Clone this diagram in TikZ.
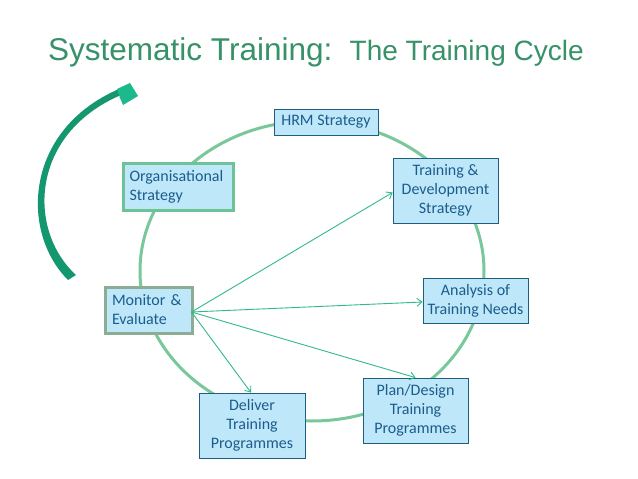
\documentclass[tikz,border=0pt]{standalone}
\usepackage{fontspec}
\setmainfont{Carlito}
\newfontfamily\titlefont{Liberation Sans}
\usetikzlibrary{arrows.meta}
\definecolor{boxfill}{RGB}{190,232,250}
\definecolor{boxtext}{RGB}{28,92,140}
\definecolor{boxline}{RGB}{30,95,125}
\definecolor{ring}{RGB}{120,200,155}
\definecolor{orgline}{RGB}{110,195,150}
\definecolor{monline}{RGB}{140,172,148}
\definecolor{arr}{RGB}{50,185,140}
\definecolor{titlecol}{RGB}{55,145,105}
\definecolor{bigarrow}{RGB}{20,150,110}
\definecolor{bigarrowhead}{RGB}{28,185,140}
\tikzset{
  stagebox/.style={draw=boxline, line width=0.8pt, fill=boxfill, text=boxtext,
    font=\fontsize{16}{19}\selectfont, align=center, inner sep=0pt},
  linkarrow/.style={draw=arr, line width=0.9pt, -{Straight Barb[length=5pt,width=8pt]}},
}
\begin{document}
\begin{tikzpicture}[x=1pt,y=-1pt]
\useasboundingbox (0,0) rectangle (638,479);
\fill[white] (0,0) rectangle (638,479);

% title
\node[anchor=base west, inner sep=0pt, text=titlecol] (title) at (48,60)
  {\titlefont\fontsize{31.5}{34}\selectfont Systematic Training:\hspace{0.55em}\fontsize{28}{30}\selectfont The Training Cycle};

% cycle ring
\draw[ring, line width=3pt] (312,271) ellipse [x radius=172, y radius=150];

% big curved arrow on the left
\fill[bigarrow] (68,280) .. controls (20,232) and (24,130) .. (119,89)
  -- (121,95) .. controls (30,134) and (27,230) .. (76,275) -- cycle;
\fill[bigarrowhead] (117,89) -- (130,83) -- (138,96) -- (123,105) -- (120,98) -- cycle;

% boxes
\node[stagebox, minimum width=104pt, minimum height=26pt] (hrm) at (326,122) {HRM Strategy};
\node[stagebox, draw=orgline, line width=3pt, minimum width=110pt, minimum height=47pt,
  align=left, text width=97pt] (org) at (178,186.5) {Organisational\\Strategy};
\node[stagebox, minimum width=105pt, minimum height=65pt] (td) at (445.5,190.5) {Training \&\\Development\\Strategy};
\node[stagebox, minimum width=105pt, minimum height=45pt] (an) at (475.5,300.5) {Analysis of\\Training Needs};
\node[stagebox, draw=monline, line width=3pt, minimum width=87pt, minimum height=46pt,
  align=left, text width=73pt] (mon) at (148.5,310) {Monitor \&\\Evaluate};
\node[stagebox, minimum width=106pt, minimum height=65pt] (de) at (252,425.5) {Deliver\\Training\\Programmes};
\node[stagebox, minimum width=105pt, minimum height=65pt] (pl) at (415.5,410.5) {Plan/Design\\Training\\Programmes};

% arrows from Monitor & Evaluate
\coordinate (mo) at ([xshift=-2pt,yshift=-2pt]mon.east);
\draw[linkarrow] (mo) -- ([yshift=-2pt]td.west);
\draw[linkarrow] (mo) -- ([yshift=-1.5pt]an.west);
\draw[linkarrow] (mo) -- (pl.north);
\draw[linkarrow] (mo) -- ([xshift=-1pt]de.north);
\end{tikzpicture}
\end{document}
